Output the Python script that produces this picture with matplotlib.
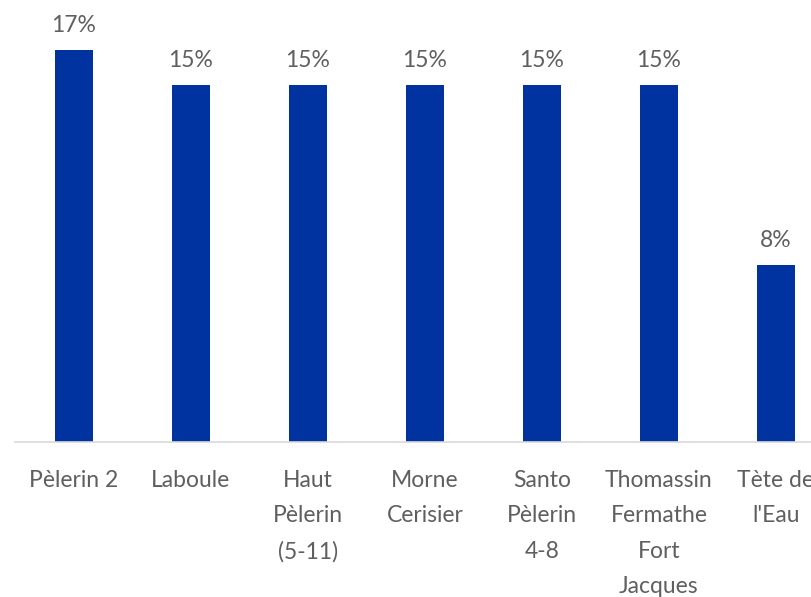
import matplotlib
matplotlib.use("Agg")
import matplotlib.pyplot as plt

# données
categories = ["Pèlerin 2", "Laboule", "Haut\nPèlerin\n(5-11)", "Morne\nCerisier",
              "Santo\nPèlerin\n4-8", "Thomassin\nFermathe\nFort\nJacques", "Tète de\nl'Eau"]
values = [16.8, 15.3, 15.3, 15.3, 15.3, 15.3, 7.6]
labels = ["17%", "15%", "15%", "15%", "15%", "15%", "8%"]

BAR_COLOR = "#0033A0"
TEXT_COLOR = "#5f5f5f"

plt.rcParams['font.family'] = ['Lato', 'DejaVu Sans']

W, H = 812, 597
fig = plt.figure(figsize=(W / 100, H / 100), dpi=100)

# axe plus large que la figure : la dernière catégorie est coupée à droite
left, right = 15.5, 834.5
base, top = 442, 10
ax = fig.add_axes([left / W, (H - base) / H, (right - left) / W, (base - top) / H])

px_per_unit = 392 / values[0]
ax.set_ylim(0, (base - top) / px_per_unit)
ax.set_xlim(-0.5, len(categories) - 0.5)

x = range(len(categories))
ax.bar(x, values, width=0.32, color=BAR_COLOR)

for i, (v, lab) in enumerate(zip(values, labels)):
    ax.annotate(lab, (i, v), xytext=(0, 13), textcoords='offset points',
                ha='center', va='baseline', fontsize=16.5, fontweight='normal',
                color=TEXT_COLOR)

ax.set_xticks(list(x))
ax.set_xticklabels(categories, fontsize=16.5, fontweight='normal', color=TEXT_COLOR,
                   linespacing=1.85)
ax.tick_params(axis='x', length=0, pad=20)
ax.set_yticks([])

for s in ['top', 'right', 'left']:
    ax.spines[s].set_visible(False)
ax.spines['bottom'].set_color('#D9D9D9')
ax.spines['bottom'].set_linewidth(1.2)

fig.savefig("out.png", dpi=100)
